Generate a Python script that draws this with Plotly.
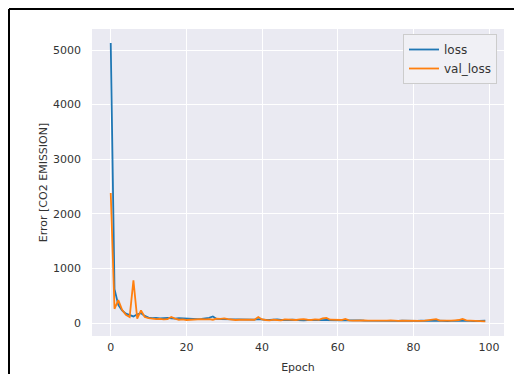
import plotly.graph_objects as go

epochs = list(range(100))

loss = [5130, 620, 330, 230, 170, 140, 120, 160, 180, 130,
        100, 90, 95, 85, 90, 95, 85, 80, 90, 85,
        75, 80, 78, 70, 75, 80, 95, 120, 75, 70,
        68, 72, 65, 60, 62, 65, 60, 58, 62, 70,
        60, 58, 55, 60, 65, 55, 52, 55, 60, 55,
        52, 50, 55, 52, 50, 48, 52, 55, 50, 48,
        45, 48, 50, 46, 45, 44, 48, 45, 43, 42,
        45, 44, 42, 40, 43, 42, 40, 41, 44, 40,
        38, 40, 42, 39, 38, 40, 45, 40, 38, 37,
        40, 42, 38, 40, 44, 38, 36, 40, 45, 42]

val_loss = [2380, 260, 420, 240, 150, 110, 780, 80, 230, 110,
            90, 80, 70, 75, 65, 70, 110, 80, 60, 65,
            55, 60, 65, 58, 70, 65, 70, 60, 80, 75,
            85, 70, 60, 55, 60, 58, 55, 50, 60, 110,
            65, 55, 50, 60, 55, 50, 65, 58, 52, 55,
            65, 70, 60, 55, 65, 60, 85, 95, 60, 55,
            50, 55, 75, 50, 45, 50, 45, 48, 45, 50,
            42, 45, 40, 45, 50, 42, 40, 45, 42, 40,
            45, 42, 40, 45, 50, 55, 70, 45, 42, 40,
            45, 50, 55, 75, 50, 45, 40, 35, 38, 30]

x_ticks = [0, 20, 40, 60, 80, 100]
y_ticks = [0, 1000, 2000, 3000, 4000, 5000]

OFF = 8  # default page body margin
W, H = 522 - OFF, 374 - OFF
L, R, T, B = 92 - OFF, 504 - OFF, 29 - OFF, 336 - OFF

fig = go.Figure()
fig.add_trace(go.Scatter(x=epochs, y=loss, mode="lines", name="loss",
                         line=dict(color="#1f77b4", width=1.8)))
fig.add_trace(go.Scatter(x=epochs, y=val_loss, mode="lines", name="val_loss",
                         line=dict(color="#ff7f0e", width=1.8)))

def px_x(p):
    return (p - OFF - L) / (R - L)

def px_y(p):
    return (B - (p - OFF)) / (B - T)

shapes = [
    dict(type="line", xref="paper", yref="paper", x0=px_x(9), x1=px_x(540),
         y0=px_y(9), y1=px_y(9), line=dict(color="black", width=2)),
    dict(type="line", xref="paper", yref="paper", x0=px_x(9), x1=px_x(9),
         y0=px_y(9), y1=px_y(390), line=dict(color="black", width=2)),
]

font = dict(family="DejaVu Sans", size=11, color="#333333")

fig.update_layout(
    width=W, height=H,
    margin=dict(l=L, r=W - R, t=T, b=H - B, pad=0, autoexpand=False),
    paper_bgcolor="white",
    plot_bgcolor="#EAEAF2",
    font=font,
    showlegend=True,
    legend=dict(x=px_x(497), y=px_y(34), xanchor="right", yanchor="top",
                bgcolor="#F0F0F5", bordercolor="#CCCCCC", borderwidth=1,
                font=dict(family="DejaVu Sans", size=12, color="#333333"),
                tracegroupgap=0),
    shapes=shapes,
    xaxis=dict(range=[-4.95, 103.95], tickvals=x_ticks, showgrid=True,
               gridcolor="white", gridwidth=1, zeroline=False, ticks="",
               showline=False, ticklabelstandoff=3, automargin=False,
               title=dict(text="Epoch", standoff=12, font=font)),
    yaxis=dict(range=[-238, 5385], tickvals=y_ticks, showgrid=True,
               gridcolor="white", gridwidth=1, zeroline=False, ticks="",
               showline=False, ticklabelstandoff=10, automargin=False,
               title=dict(text="Error [CO2 EMISSION]", standoff=3, font=font)),
)

fig.write_html("out.html")
